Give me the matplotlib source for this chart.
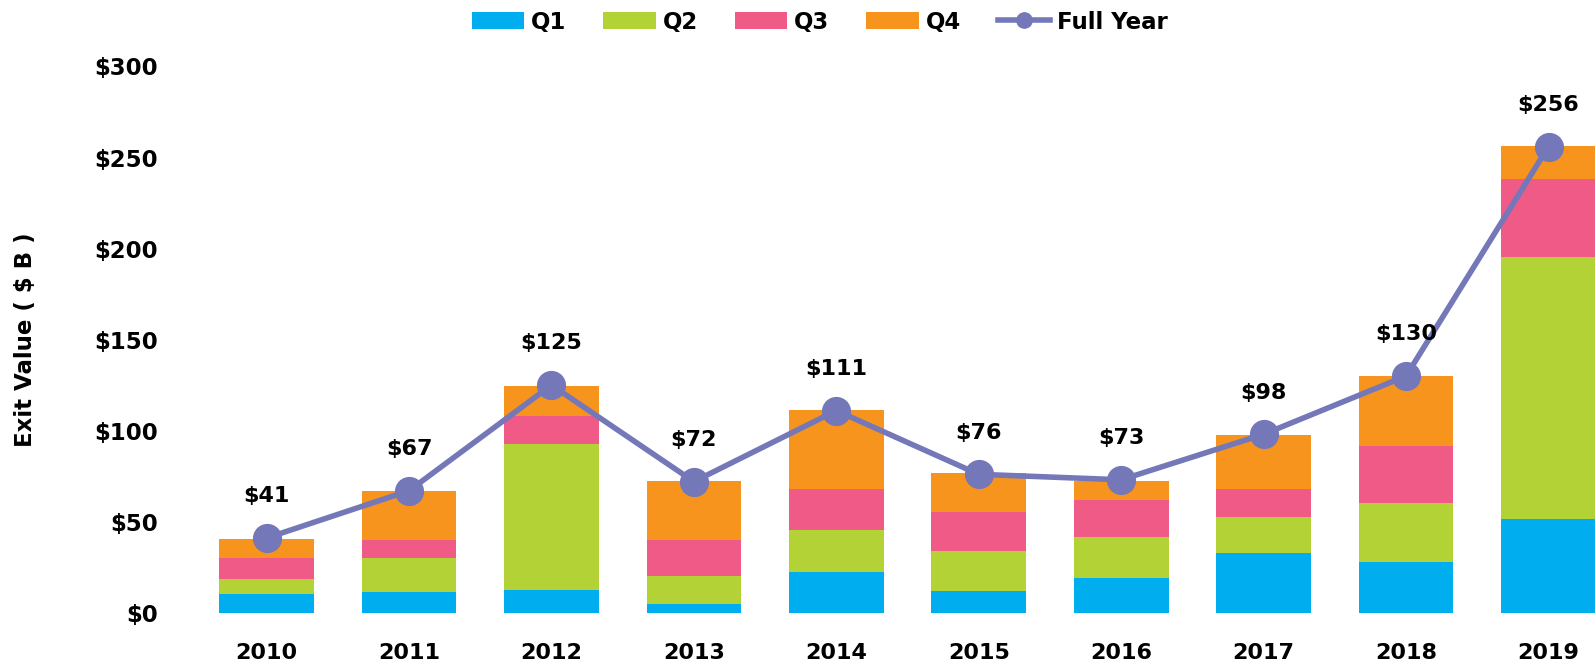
import matplotlib.pyplot as plt
import numpy as np

# exit value by quarter ($B)
years = ['2010', '2011', '2012', '2013', '2014', '2015', '2016', '2017', '2018', '2019']
q1 = [10.4, 11.2, 12.5, 4.8, 22.4, 11.9, 18.9, 32.8, 27.9, 51.3]
q2 = [7.9, 19.0, 80.4, 15.5, 23.2, 21.8, 22.5, 19.8, 32.5, 144.3]
q3 = [11.9, 9.9, 15.3, 19.8, 22.5, 21.8, 20.5, 15.5, 31.2, 42.5]
q4 = [10.5, 26.6, 16.4, 32.3, 43.1, 21.1, 10.5, 29.5, 38.4, 18.0]
full_year = [41, 67, 125, 72, 111, 76, 73, 98, 130, 256]
yticks = [0, 50, 100, 150, 200, 250, 300]

plt.rcParams['font.family'] = 'DejaVu Sans'
plt.rcParams['font.weight'] = 'bold'

fig = plt.figure(figsize=(15.95, 6.71), dpi=100)
ax = fig.add_axes([0.1225, 0.0869, 0.893, 0.814])

x = np.arange(len(years))
w = 0.665
colors = ['#00AEEF', '#B3D235', '#F05A87', '#F7941E']
bottom = np.zeros(len(years))
for vals, c, lab in zip([q1, q2, q3, q4], colors, ['Q1', 'Q2', 'Q3', 'Q4']):
    ax.bar(x, vals, w, bottom=bottom, color=c, label=lab, zorder=2)
    bottom += np.array(vals)

ax.plot(x, full_year, color='#7477B8', lw=4, marker='o', ms=20,
        label='Full Year', zorder=3)

for xi, v in zip(x, full_year):
    ax.annotate(f"${v}", (xi, v), xytext=(0, 30), textcoords='offset points',
                ha='center', va='center', fontsize=16, fontweight='bold')

ax.set_xlim(-0.5, 9.5)
ax.set_ylim(0, 300)
ax.set_xticks(x)
ax.set_xticklabels(years)
ax.set_yticks(yticks)
ax.set_yticklabels([f"${t}" for t in yticks])
ax.tick_params(axis='both', length=0)
ax.tick_params(axis='y', pad=27, labelsize=16.5)
ax.tick_params(axis='x', pad=22, labelsize=16)
for s in ax.spines.values():
    s.set_visible(False)

ax.set_ylabel('Exit Value ( $ B )', fontsize=16.5, fontweight='bold')
ax.yaxis.set_label_coords(-0.111, 0.5)

# bars first, line last in the legend
handles, labels = ax.get_legend_handles_labels()
order = [1, 2, 3, 4, 0]
leg = fig.legend([handles[i] for i in order], [labels[i] for i in order],
                 loc='center', bbox_to_anchor=(0.514, 0.967), ncol=5, frameon=False,
                 fontsize=16.5, handlelength=2.3, handleheight=0.8, handletextpad=0.3,
                 columnspacing=1.6, markerscale=0.55)

plt.savefig('out.png', dpi=100)
